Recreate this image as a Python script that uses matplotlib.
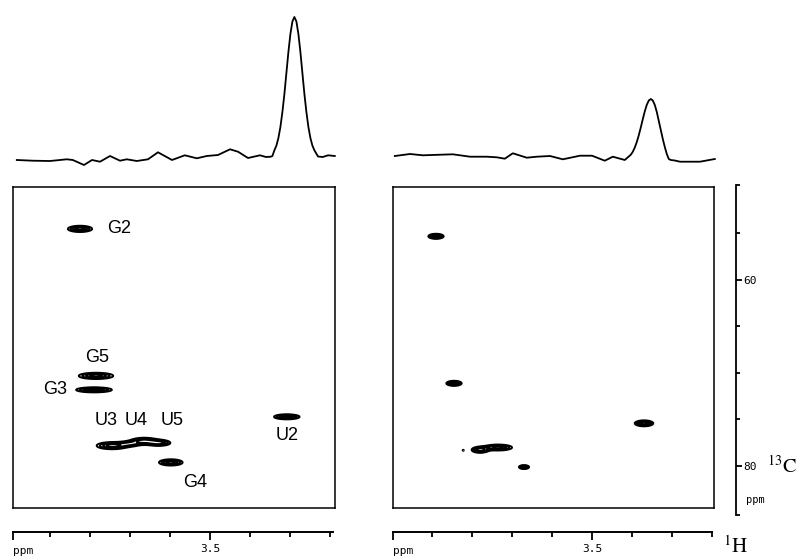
import numpy as np
import matplotlib
matplotlib.use("Agg")
import matplotlib.pyplot as plt

plt.rcParams["mathtext.fontset"] = "stix"

W, H = 797, 556

# 1D projections (ppm, intensity)
left_ppm = [3.983, 3.943, 3.900, 3.858, 3.843, 3.815, 3.795, 3.775, 3.750, 3.725,
            3.708, 3.683, 3.655, 3.630, 3.595, 3.563, 3.533, 3.508, 3.480, 3.450,
            3.430, 3.405, 3.375, 3.360, 3.348, 3.344, 3.339, 3.334, 3.329, 3.324,
            3.319, 3.314, 3.309, 3.304, 3.299, 3.294, 3.289, 3.284, 3.279, 3.274,
            3.269, 3.264, 3.259, 3.254, 3.249, 3.244, 3.239, 3.230, 3.218, 3.205, 3.188]
left_int = [0, -0.7, -1, 0.7, 0, -5, 0, -1.7, 4, -0.7,
            0.7, -1, 0.7, 7.7, 0, 4.7, 1.7, 4, 5, 10.7,
            8.3, 2, 4.7, 3, 3.3, 4, 9.7, 14.4, 22, 33,
            48, 66, 87, 108, 126, 138.5, 143, 138.5, 126, 108,
            87, 66, 48, 33, 22, 14.4, 9.7, 3.5, 3, 4.7, 4]

right_ppm = [3.993, 3.955, 3.923, 3.848, 3.805, 3.763, 3.738, 3.718, 3.698, 3.663,
             3.638, 3.605, 3.573, 3.530, 3.500, 3.468, 3.448, 3.418, 3.403, 3.398,
             3.393, 3.388, 3.383, 3.378, 3.373, 3.368, 3.363, 3.358, 3.353, 3.348,
             3.343, 3.338, 3.333, 3.328, 3.323, 3.318, 3.313, 3.308, 3.303, 3.293,
             3.280, 3.230, 3.193]
right_int = [1, 3, 1.7, 2.7, 0.3, 0.3, -0.3, -1.7, 3.7, -0.7,
             0.3, 1, -2.3, 1.3, 1.3, -3.7, 0.3, -3, 2.3, 5.2,
             9.5, 15, 21.8, 29.6, 37.9, 45.7, 52.2, 56.5, 58, 56.5,
             52, 45, 36, 27, 18, 10, 3, -2, -3, -3.5,
             -4.7, -4.7, -2]

# cross peaks: 1H ppm, 13C ppm, 1H width, 13C width, height
left_h = [3.825, 3.785, 3.790, 3.745, 3.700, 3.665, 3.628, 3.598, 3.308]
left_c = [54.5, 70.3, 71.8, 77.8, 77.6, 77.3, 77.5, 79.6, 74.7]
left_wh = [0.019, 0.027, 0.028, 0.024, 0.018, 0.020, 0.018, 0.0185, 0.020]
left_wc = [0.21, 0.21, 0.17, 0.24, 0.20, 0.22, 0.20, 0.21, 0.17]
left_amp = [1, 1, 1, 1, 0.6, 1, 1, 1, 1]
left_names = ["G2", "G5", "G3", "U3", "U4", "U5", "U2", "G4"]
left_lab_h = [3.7575, 3.8125, 3.9175, 3.7875, 3.7125, 3.6225, 3.335, 3.5675]
left_lab_c = [54.5, 68.3, 71.8, 75.05, 75.05, 75.05, 76.7, 81.8]

right_h = [3.890, 3.845, 3.370, 3.780, 3.735, 3.822, 3.670]
right_c = [55.3, 71.1, 75.4, 78.25, 78.0, 78.3, 80.1]
right_wh = [0.012, 0.012, 0.0145, 0.013, 0.022, 0.002, 0.008]
right_wc = [0.17, 0.17, 0.20, 0.20, 0.20, 0.08, 0.13]
right_amp = [1, 1, 1, 1, 1, 0.35, 1]

levels = [0.28, 0.45, 0.65, 0.85]


def px_axes(x0, y0, x1, y1):
    # axes placed by pixel box of the reference
    return fig.add_axes([x0 / W, 1 - y1 / H, (x1 - x0) / W, (y1 - y0) / H])


def surface(hs, cs, whs, wcs, amps, xl):
    X, Y = np.meshgrid(np.linspace(xl[1], xl[0], 900), np.linspace(49, 86, 800))
    Z = np.zeros_like(X)
    for h, c, wh, wc, a in zip(hs, cs, whs, wcs, amps):
        Z += a * np.exp(-0.5 * ((X - h) / wh) ** 2 - 0.5 * ((Y - c) / wc) ** 2)
    return X, Y, Z


def ppm_scale(x0, x1, xl):
    ax = px_axes(x0, 531, x1, 532)
    for s in ["top", "left", "right"]:
        ax.spines[s].set_visible(False)
    ax.spines["bottom"].set_linewidth(1.4)
    ax.set_xlim(*xl)
    ax.set_yticks([])
    ax.set_xticks([xl[0], 3.5], ["", "3.5"])
    ax.set_xticks([3.9, 3.8, 3.7, 3.6, 3.4, 3.3, 3.2], minor=True)
    ax.tick_params(axis="x", which="major", length=6, width=1.3, pad=3,
                   labelsize=8, labelfontfamily="DejaVu Sans Mono")
    ax.tick_params(axis="x", which="minor", length=3.5, width=1.3)
    fig.text(x0 / W, 1 - 551 / H, "ppm", fontsize=8, family="DejaVu Sans Mono",
             va="center", ha="left")


fig = plt.figure(figsize=(W / 100, H / 100), dpi=100)

xl_left = (3.9925, 3.1875)
xl_right = (3.9975, 3.1950)

# top traces
ax = px_axes(13, 0, 335, 170)
ax.plot(left_ppm, left_int, color="k", lw=1.3, clip_on=False)
ax.set_xlim(*xl_left)
ax.set_ylim(-10, 160)
ax.axis("off")

ax = px_axes(393, 0, 714, 170)
ax.plot(right_ppm, right_int, color="k", lw=1.3, clip_on=False)
ax.set_xlim(*xl_right)
ax.set_ylim(-13, 157)
ax.axis("off")

# 2D maps
ax = px_axes(13, 187, 335, 508)
X, Y, Z = surface(left_h, left_c, left_wh, left_wc, left_amp, xl_left)
ax.contour(X, Y, Z, levels=levels, colors="k", linewidths=1.4)
ax.set_xlim(*xl_left)
ax.set_ylim(84.5, 50)
ax.set_xticks([])
ax.set_yticks([])
for s in ax.spines.values():
    s.set_linewidth(1.1)
for name, h, c in zip(left_names, left_lab_h, left_lab_c):
    ax.text(h, c, name, fontsize=13, family="Liberation Sans", ha="left", va="center")

ax = px_axes(393, 187, 714, 508)
X, Y, Z = surface(right_h, right_c, right_wh, right_wc, right_amp, xl_right)
ax.contour(X, Y, Z, levels=levels, colors="k", linewidths=1.4)
ax.set_xlim(*xl_right)
ax.set_ylim(84.5, 50)
ax.set_xticks([])
ax.set_yticks([])
for s in ax.spines.values():
    s.set_linewidth(1.1)

# 1H scales
ppm_scale(13, 333, (3.9925, 3.1925))
ppm_scale(393, 712, (3.9975, 3.2))
fig.text(723 / W, 1 - 546 / H, r"$^{1}\mathrm{H}$", fontsize=15, va="center", ha="left")

# 13C scale
ax = px_axes(735, 185, 736, 515)
for s in ["top", "left", "bottom"]:
    ax.spines[s].set_visible(False)
ax.spines["right"].set_linewidth(1.3)
ax.set_xticks([])
ax.set_ylim(85.3, 49.8)
ax.yaxis.tick_right()
ax.set_yticks([60, 80], ["60", "80"])
ax.set_yticks([49.8, 55, 65, 70, 75, 85.3], minor=True)
ax.tick_params(axis="y", which="major", length=4, width=1.3, pad=1.5,
               labelsize=8, labelfontfamily="DejaVu Sans Mono")
ax.tick_params(axis="y", which="minor", length=3, width=1.3)
fig.text(767 / W, 1 - 466 / H, r"$^{13}\mathrm{C}$", fontsize=14.5, va="center", ha="left")
fig.text(746 / W, 1 - 500 / H, "ppm", fontsize=7.5, family="DejaVu Sans Mono",
         va="center", ha="left")

fig.savefig("out.png", dpi=100)
